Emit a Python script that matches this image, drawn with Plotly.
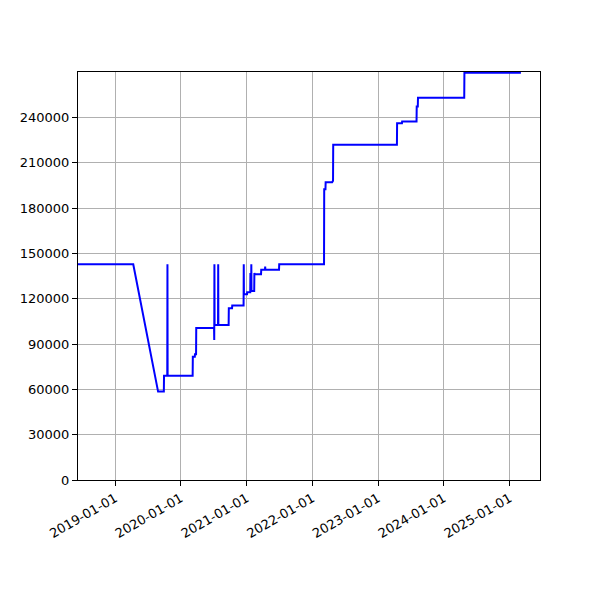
import plotly.graph_objects as go

# step series (date, value)
dates = [
    "2018-06-09", "2019-04-12", "2019-08-28", "2019-09-29", "2019-09-30",
    "2019-10-18", "2019-10-19", "2019-10-20",
    "2020-03-07", "2020-03-08", "2020-03-19", "2020-03-20", "2020-03-26", "2020-03-27",
    "2020-07-04", "2020-07-05", "2020-07-06", "2020-07-07",
    "2020-07-26", "2020-07-27", "2020-07-28",
    "2020-09-23", "2020-09-24", "2020-10-12", "2020-10-13",
    "2020-12-15", "2020-12-16", "2020-12-17",
    "2021-01-03", "2021-01-04", "2021-01-21", "2021-01-22", "2021-01-23",
    "2021-01-26", "2021-01-27", "2021-01-28", "2021-02-12", "2021-02-13",
    "2021-02-14", "2021-02-15",
    "2021-03-22", "2021-03-23", "2021-04-13", "2021-04-14", "2021-04-15",
    "2021-06-30", "2021-07-01",
    "2022-03-07", "2022-03-08", "2022-03-15", "2022-03-16",
    "2022-04-21", "2022-04-22", "2022-04-26", "2022-04-27",
    "2023-04-16", "2023-04-17", "2023-05-14", "2023-05-15",
    "2023-08-03", "2023-08-04", "2023-08-10", "2023-08-11",
    "2024-04-24", "2024-04-25", "2025-03-05",
]
values = [
    142800, 142800, 58500, 58500, 69000,
    69000, 142800, 69000,
    69000, 81600, 81600, 83200, 83200, 100600,
    100600, 92700, 142800, 102600,
    102600, 142800, 102600,
    102600, 113700, 113700, 115400,
    115400, 142800, 123000,
    123000, 124300, 124300, 137000, 125000,
    125000, 142800, 125000, 125000, 137000,
    125000, 136200,
    136200, 139200, 139200, 141200, 139200,
    139200, 142800,
    142800, 192400, 192400, 197000,
    197000, 198100, 198100, 221800,
    221800, 236100, 236100, 237200,
    237200, 247100, 247100, 253000,
    253000, 269500, 269500,
]

x_ticks = ["2019-01-01", "2020-01-01", "2021-01-01", "2022-01-01",
           "2023-01-01", "2024-01-01", "2025-01-01"]
y_ticks = [0, 30000, 60000, 90000, 120000, 150000, 180000, 210000, 240000]

GRID = "#b0b0b0"
FONT = dict(family="DejaVu Sans", size=13, color="black")

fig = go.Figure()
fig.add_trace(go.Scatter(x=dates, y=values, mode="lines",
                         line=dict(color="blue", width=2), showlegend=False))

# the page adds an 8px body margin, so margins are shifted to compensate
fig.update_layout(
    width=600, height=600,
    margin=dict(l=67, r=68, t=64, b=128),
    paper_bgcolor="white", plot_bgcolor="white",
    font=FONT,
)
fig.update_xaxes(
    range=["2018-06-09", "2025-06-19"],
    tickvals=x_ticks, ticktext=x_ticks, tickangle=-30,
    showgrid=True, gridcolor=GRID, gridwidth=0.8,
    showline=True, linecolor="black", linewidth=1, mirror=True,
    ticks="outside", ticklen=5, tickcolor="black", zeroline=False,
)
fig.update_yaxes(
    range=[0, 270000],
    tickvals=y_ticks, tickformat="d",
    showgrid=True, gridcolor=GRID, gridwidth=0.8,
    showline=True, linecolor="black", linewidth=1, mirror=True,
    ticks="outside", ticklen=5, tickcolor="black", zeroline=False,
)

fig.write_html("out.html")
